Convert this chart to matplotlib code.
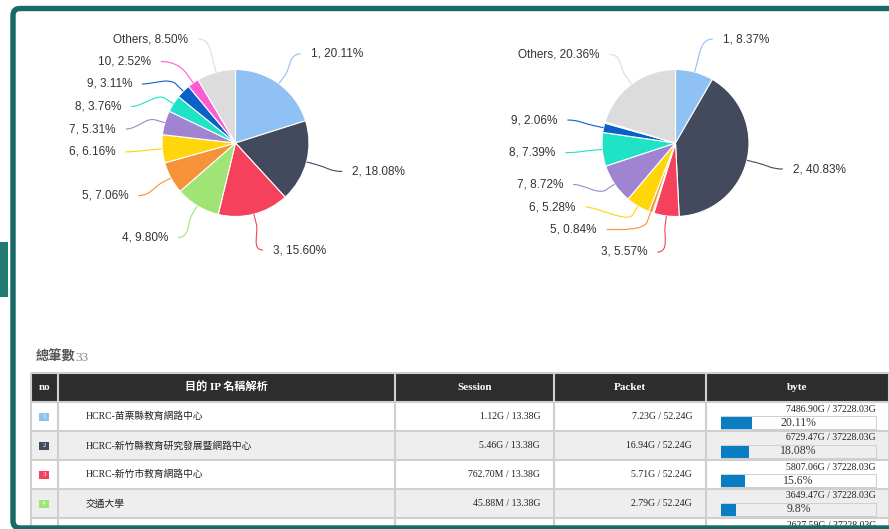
import numpy as np
import matplotlib.pyplot as plt
from matplotlib.patches import Rectangle, FancyBboxPatch, PathPatch
from matplotlib.path import Path

W, H = 889, 529

# pie data (percent of bytes)
slice_names = ['1', '2', '3', '4', '5', '6', '7', '8', '9', '10', 'Others']
slice_colors = ['#8fc1f5', '#434a5e', '#f5415c', '#9fe475', '#f7923a', '#ffd60a',
                '#a084d1', '#1fe2c6', '#0a60c9', '#ff5cd2', '#dcdcdc']
left_pct = [20.11, 18.08, 15.60, 9.80, 7.06, 6.16, 5.31, 3.76, 3.11, 2.52, 8.50]
right_pct = [8.37, 40.83, 5.57, 0.30, 0.84, 5.28, 8.72, 7.39, 2.06, 0.28, 20.36]
right_shown = [True, True, True, False, True, True, True, True, True, False, True]

# table data
total_title = '總筆數'
total_count = '33'
headers = ['no', '目的 IP 名稱解析', 'Session', 'Packet', 'byte']
row_no = ['1', '2', '3', '4', '5']
row_name = ['HCRC-苗栗縣教育網路中心', 'HCRC-新竹縣教育研究發展暨網路中心',
            'HCRC-新竹市教育網路中心', '交通大學', '']
row_session = ['1.12G / 13.38G', '5.46G / 13.38G', '762.70M / 13.38G', '45.88M / 13.38G', '']
row_packet = ['7.23G / 52.24G', '16.94G / 52.24G', '5.71G / 52.24G', '2.79G / 52.24G', '']
row_bytes = [7486.90, 6729.47, 5807.06, 3649.47, 2627.59]
byte_total = 37228.03
row_pct = ['20.11%', '18.08%', '15.6%', '9.8%', '7.06%']

teal = '#186a68'
serif_cjk = ['Liberation Serif', 'Noto Sans CJK TC']

fig = plt.figure(figsize=(W / 100, H / 100), dpi=100)
ax = fig.add_axes([0, 0, 1, 1])


def draw_pie(values, cx, cy, shown):
    r = 73.5
    R = r + 37
    wedges, _ = ax.pie(values, colors=slice_colors, startangle=-90, counterclock=True,
                       center=(cx, cy), radius=r,
                       wedgeprops=dict(edgecolor='white', linewidth=0.8))
    items = {'left': [], 'right': []}
    for i, w in enumerate(wedges):
        if not shown[i]:
            continue
        th = np.deg2rad((w.theta1 + w.theta2) / 2)
        dx, dy = np.cos(th), np.sin(th)
        side = 'right' if dx >= 0 else 'left'
        items[side].append([i, dx, dy, cy + R * dy])
    for side, group in items.items():
        group.sort(key=lambda t: t[3])
        ys = [g[3] for g in group]
        gap, top, bottom = 22.5, 39, 252
        for k in range(len(ys)):
            lo = top if k == 0 else ys[k - 1] + gap
            ys[k] = max(ys[k], lo)
        for k in range(len(ys) - 1, -1, -1):
            hi = bottom if k == len(ys) - 1 else ys[k + 1] - gap
            ys[k] = min(ys[k], hi)
        sgn = 1 if side == 'right' else -1
        for g, ly in zip(group, ys):
            i, dx, dy = g[0], g[1], g[2]
            lx = cx + sgn * np.sqrt(max(R ** 2 - (ly - cy) ** 2, 0))
            ex, ey = cx + r * dx, cy + r * dy
            bx, by = cx + (r + 10) * dx, cy + (r + 10) * dy
            verts = [(lx, ly), (lx - sgn * 12, ly), (2 * bx - ex, 2 * by - ey), (bx, by), (ex, ey)]
            codes = [Path.MOVETO, Path.CURVE4, Path.CURVE4, Path.CURVE4, Path.LINETO]
            ax.add_patch(PathPatch(Path(verts, codes), fill=False,
                                   edgecolor=slice_colors[i], lw=0.8))
            ax.text(lx + sgn * 10, ly, '%s, %.2f%%' % (slice_names[i], values[i]),
                    ha='left' if side == 'right' else 'right', va='center',
                    fontsize=8.5, color='#333333', family='Liberation Sans')


draw_pie(left_pct, 235.5, 143, [True] * len(left_pct))
draw_pie(right_pct, 675.5, 143, right_shown)

# title above table
ax.text(36, 357, total_title, fontsize=9.5, fontweight='bold', color='#555555',
        family='Noto Sans CJK TC', ha='left', va='center')
ax.text(75, 358, total_count, fontsize=9.5, color='#8a8a8a',
        family='Liberation Serif', ha='left', va='center')

# table
cols = [31, 58, 395, 554, 706, 889]
head_top, head_h, row_h = 373, 29, 29
ax.add_patch(Rectangle((cols[0], head_top), cols[-1] - cols[0], head_h,
                       facecolor='#2d2d2d', edgecolor='none', zorder=1))
for j, h in enumerate(headers):
    ax.text((cols[j] + cols[j + 1]) / 2, head_top + head_h / 2, h, color='white',
            fontsize=8, fontweight='bold', family=serif_cjk, ha='center', va='center', zorder=3)

bar_left, bar_w = 721, 155
for i in range(len(row_no)):
    top = head_top + head_h + row_h * i
    mid = top + row_h / 2
    ax.add_patch(Rectangle((cols[0], top), cols[-1] - cols[0], row_h,
                           facecolor='white' if i % 2 == 0 else '#eeeeee',
                           edgecolor='none', zorder=1))
    ax.add_patch(Rectangle((39, mid - 4), 10, 8, facecolor=slice_colors[i],
                           edgecolor='none', zorder=2))
    ax.text(44, mid, row_no[i], color='white', fontsize=5, family='Liberation Serif',
            ha='center', va='center', zorder=3)
    ax.text(86, mid, row_name[i], fontsize=7, color='#222222', family=serif_cjk,
            ha='left', va='center', zorder=3)
    ax.text(540, mid, row_session[i], fontsize=7, color='#222222', family='Liberation Serif',
            ha='right', va='center', zorder=3)
    ax.text(692, mid, row_packet[i], fontsize=7, color='#222222', family='Liberation Serif',
            ha='right', va='center', zorder=3)
    ax.text(876, top + 7, '%.2fG / %.2fG' % (row_bytes[i], byte_total), fontsize=7,
            color='#222222', family='Liberation Serif', ha='right', va='center', zorder=3)
    pct = row_bytes[i] / byte_total
    ax.add_patch(Rectangle((bar_left, top + 14), bar_w, 13, facecolor='none',
                           edgecolor='#d0d0d0', lw=0.75, zorder=2))
    ax.barh(top + 20.5, pct * bar_w, left=bar_left, height=12, color='#0b7dc2', zorder=2)
    ax.text(bar_left + bar_w / 2, top + 20.5, row_pct[i], fontsize=8.5, color='#333333',
            family='Liberation Serif', ha='center', va='center', zorder=3)

grid_ys = [head_top + k * row_h for k in range(len(row_no) + 1)]
ax.hlines(grid_ys, cols[0], cols[-1], colors='#cfcfcf', lw=1.5, zorder=4)
ax.vlines(cols, head_top, H + 5, colors='#cfcfcf', lw=1.5, zorder=4)

# page frame
ax.add_patch(FancyBboxPatch((13, 8.5), 900, 519.5, boxstyle='round,pad=0,rounding_size=7',
                            facecolor='none', edgecolor=teal, lw=3.9, zorder=10))
ax.add_patch(Rectangle((0, 242), 8, 55, facecolor='#22796f', edgecolor='none', zorder=10))

ax.set_xlim(0, W)
ax.set_ylim(H, 0)
ax.set_aspect('auto')
ax.axis('off')
fig.savefig('out.png', dpi=100, facecolor='white')
